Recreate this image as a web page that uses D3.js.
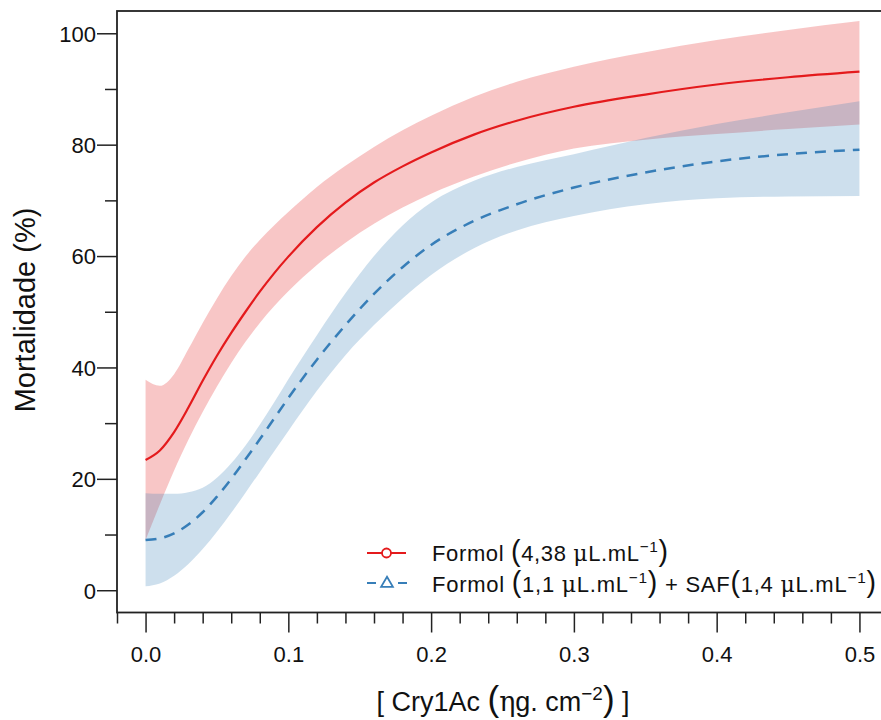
<!DOCTYPE html>
<html>
<head>
<meta charset="utf-8">
<script src="https://cdn.jsdelivr.net/npm/d3@7"></script>
<style>
body { margin: 0; background: #fff; }
text { font-family: "Liberation Sans", Arial, sans-serif; fill: #111; }
</style>
</head>
<body>
<svg width="881" height="720"></svg>
<script>
// Cry1Ac dose (ng/cm2) and fitted mortality (%) with confidence band
var dose = [0, 0.01, 0.02, 0.03, 0.04, 0.05, 0.06, 0.07, 0.08, 0.09, 0.10, 0.12, 0.14, 0.16, 0.18, 0.20, 0.23, 0.26, 0.30, 0.35, 0.40, 0.45, 0.50];

var formolFit = [23.4, 25.1, 28.4, 32.8, 37.6, 42.1, 46.2, 50.0, 53.6, 56.9, 59.9, 65.2, 69.6, 73.2, 76.1, 78.6, 81.8, 84.3, 86.8, 89.0, 90.8, 92.1, 93.1];
var formolHi  = [37.8, 36.7, 38.8, 43.3, 48.0, 52.4, 56.4, 59.9, 62.9, 65.5, 67.9, 72.4, 76.2, 79.6, 82.6, 85.2, 88.6, 91.3, 94.0, 96.6, 98.8, 100.6, 102.2];
var formolLo  = [9.0, 15.4, 21.5, 27.0, 32.0, 36.6, 40.8, 44.6, 48.0, 51.0, 53.7, 58.4, 62.4, 65.8, 68.7, 71.2, 74.3, 76.8, 79.3, 80.9, 81.9, 82.8, 83.6];

var safFit = [9.0, 9.3, 10.2, 11.8, 14.0, 16.8, 20.0, 23.5, 27.1, 30.8, 34.5, 41.4, 47.6, 53.2, 58.0, 62.0, 66.3, 69.3, 72.3, 75.0, 77.0, 78.3, 79.1];
var safHi  = [17.4, 17.3, 17.3, 17.6, 18.4, 20.2, 22.8, 26.0, 29.7, 33.7, 37.9, 45.8, 53.3, 60.0, 65.5, 69.6, 73.5, 76.0, 78.3, 81.2, 83.7, 85.8, 87.8];
var safLo  = [0.7, 1.2, 2.6, 4.7, 7.4, 10.5, 13.9, 17.5, 21.2, 24.9, 28.6, 35.8, 42.2, 47.6, 52.4, 56.6, 61.4, 64.6, 67.2, 69.3, 70.4, 70.7, 70.8];

var xMajor = [0, 0.1, 0.2, 0.3, 0.4, 0.5];
var xMinor = [-0.02, 0.02, 0.04, 0.06, 0.08, 0.12, 0.14, 0.16, 0.18, 0.22, 0.24, 0.26, 0.28, 0.32, 0.34, 0.36, 0.38, 0.42, 0.44, 0.46, 0.48];
var yMajor = [0, 20, 40, 60, 80, 100];
var yMinor = [10, 30, 50, 70, 90];

var red = "#e41a1c", blue = "#377eb8", ink = "#222";

var svg = d3.select("svg");
var x = d3.scaleLinear().domain([-0.02, 0.52]).range([117, 888]);
var y = d3.scaleLinear().domain([-4, 104]).range([612.5, 11]);

function rows(lo, hi, fit) {
    return dose.map(function (d, i) { return {x: d, lo: lo[i], hi: hi[i], fit: fit[i]}; });
}
var formol = rows(formolLo, formolHi, formolFit);
var saf = rows(safLo, safHi, safFit);

var band = d3.area().curve(d3.curveMonotoneX)
    .x(function (d) { return x(d.x); })
    .y0(function (d) { return y(d.lo); })
    .y1(function (d) { return y(d.hi); });
var line = d3.line().curve(d3.curveMonotoneX)
    .x(function (d) { return x(d.x); })
    .y(function (d) { return y(d.fit); });

svg.append("path").datum(formol).attr("d", band).attr("fill", red).attr("fill-opacity", 0.25);
svg.append("path").datum(saf).attr("d", band).attr("fill", blue).attr("fill-opacity", 0.25);
svg.append("path").datum(formol).attr("d", line)
    .attr("fill", "none").attr("stroke", red).attr("stroke-width", 2.2);
svg.append("path").datum(saf).attr("d", line)
    .attr("fill", "none").attr("stroke", blue).attr("stroke-width", 2.5).attr("stroke-dasharray", "11,8");

// axes
function styleAxis(g) {
    g.select(".domain").remove();
    g.attr("font-family", null).attr("font-size", 22).attr("color", ink);
    g.selectAll("line").attr("stroke-width", 1.5);
}
var xa = svg.append("g").attr("transform", "translate(0," + y.range()[0] + ")")
    .call(d3.axisBottom(x).tickValues(xMajor).tickSize(20).tickFormat(d3.format(".1f")))
    .call(styleAxis);
xa.selectAll("text").attr("y", 49).attr("dy", 0);
svg.append("g").attr("transform", "translate(0," + y.range()[0] + ")")
    .call(d3.axisBottom(x).tickValues(xMinor).tickSize(11).tickFormat(""))
    .call(styleAxis);

svg.append("g").attr("transform", "translate(" + x.range()[0] + ",0)")
    .call(d3.axisLeft(y).tickValues(yMajor).tickSize(20).tickPadding(1).tickFormat(d3.format("d")))
    .call(styleAxis)
    .selectAll("text").attr("dy", "0.36em");
svg.append("g").attr("transform", "translate(" + x.range()[0] + ",0)")
    .call(d3.axisLeft(y).tickValues(yMinor).tickSize(12).tickFormat(""))
    .call(styleAxis);

svg.append("rect")
    .attr("x", x.range()[0]).attr("y", y.range()[1])
    .attr("width", x.range()[1] - x.range()[0]).attr("height", y.range()[0] - y.range()[1])
    .attr("fill", "none").attr("stroke", ink).attr("stroke-width", 1.8);

// rich text: parts = [text, kind], kind "" | "big" | "sup" | "greek"
function rich(t, parts, size) {
    t.attr("font-size", size);
    var raised = false;
    parts.forEach(function (p) {
        var s = t.append("tspan").text(p[0]).attr("font-size", size);
        var shift = 0;
        if (raised) { shift += size * 0.42; raised = false; }
        if (p[1] === "sup") { s.attr("font-size", size * 0.7); shift -= size * 0.42; raised = true; }
        if (p[1] === "big") s.attr("font-size", size * 1.3);
        if (p[1] === "greek") s.attr("font-family", "'DejaVu Serif', serif");
        if (shift) s.attr("dy", shift);
    });
    return t;
}

// axis titles
rich(svg.append("text").attr("x", 503).attr("y", 711).attr("text-anchor", "middle"),
    [["[ Cry1Ac ", ""], ["(", "big"], ["\u03b7", "greek"], ["g. cm", ""], ["\u22122", "sup"], [")", "big"], [" ]", ""]], 27);
svg.append("text").attr("transform", "translate(35,310) rotate(-90)")
    .attr("text-anchor", "middle").attr("font-size", 29).text("Mortalidade (%)");

// legend
var lg = svg.append("g");
lg.append("line").attr("x1", 367).attr("x2", 406).attr("y1", 553).attr("y2", 553)
    .attr("stroke", red).attr("stroke-width", 2);
lg.append("circle").attr("cx", 386.5).attr("cy", 553).attr("r", 4.5)
    .attr("fill", "#fff").attr("stroke", red).attr("stroke-width", 1.8);
lg.append("line").attr("x1", 367).attr("x2", 376).attr("y1", 583).attr("y2", 583)
    .attr("stroke", blue).attr("stroke-width", 2);
lg.append("line").attr("x1", 398).attr("x2", 407).attr("y1", 583).attr("y2", 583)
    .attr("stroke", blue).attr("stroke-width", 2);
lg.append("path").attr("d", d3.symbol(d3.symbolTriangle, 60)())
    .attr("transform", "translate(387,583.5)")
    .attr("fill", "#fff").attr("stroke", blue).attr("stroke-width", 1.8);

rich(lg.append("text").attr("x", 432).attr("y", 561)
        .attr("textLength", 236).attr("lengthAdjust", "spacing"),
    [["Formol ", ""], ["(", "big"], ["4,38 ", ""], ["\u03bc", "greek"], ["L.mL", ""], ["\u22121", "sup"], [")", "big"]], 22);
rich(lg.append("text").attr("x", 432).attr("y", 592)
        .attr("textLength", 444).attr("lengthAdjust", "spacing"),
    [["Formol ", ""], ["(", "big"], ["1,1 ", ""], ["\u03bc", "greek"], ["L.mL", ""], ["\u22121", "sup"], [")", "big"],
     [" + SAF", ""], ["(", "big"], ["1,4 ", ""], ["\u03bc", "greek"], ["L.mL", ""], ["\u22121", "sup"], [")", "big"]], 22);
</script>
</body>
</html>
